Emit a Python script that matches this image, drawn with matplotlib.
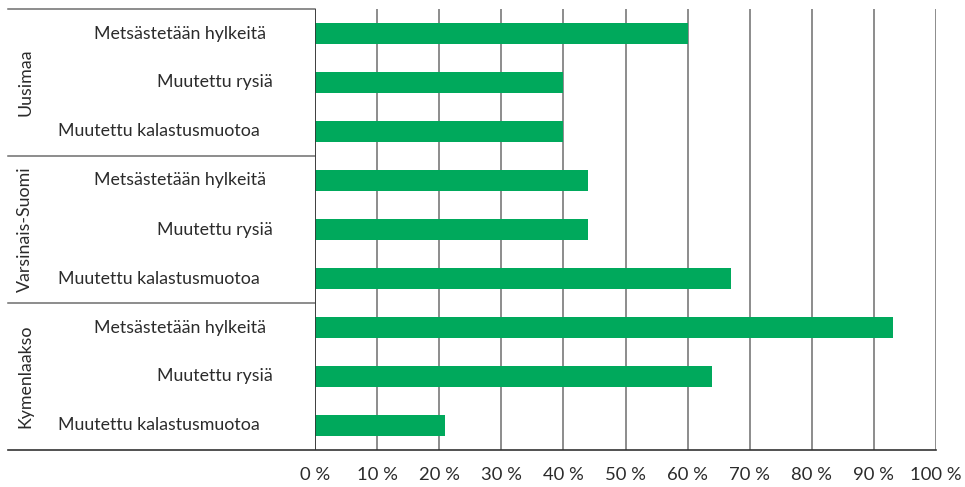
import matplotlib.pyplot as plt
import matplotlib.ticker as ticker

regions = ["Uusimaa", "Varsinais-Suomi", "Kymenlaakso"]
measures = ["Metsästetään hylkeitä", "Muutettu rysiä", "Muutettu kalastusmuotoa"]
uusimaa = [60, 40, 40]
varsinais_suomi = [44, 44, 67]
kymenlaakso = [93, 64, 21]

values = uusimaa + varsinais_suomi + kymenlaakso
labels = measures * len(regions)
rows = list(range(len(values)))

plt.rcParams["font.family"] = ["Lato", "DejaVu Sans"]

fig = plt.figure(figsize=(9.65, 4.87), dpi=100)
ax = fig.add_axes([315 / 965, 37 / 487, 621 / 965, 441 / 487])

GREEN = "#00a95c"
LINE = "#6e6e6e"
TXT = "#2b2b2b"
FS = 12.8

ax.barh(rows, values, height=0.41, color=GREEN, zorder=3)
ax.set_xlim(0, 100)
ax.set_ylim(len(values) - 0.5, -0.5)

ax.xaxis.set_major_locator(ticker.MultipleLocator(10))
ax.xaxis.set_major_formatter(ticker.FuncFormatter(lambda v, p: f"{v:.0f} %"))
ax.tick_params(axis="x", length=0, pad=12, labelsize=13.3, labelcolor=TXT)
ax.tick_params(axis="y", length=0, labelleft=False)
ax.grid(axis="x", color=LINE, linewidth=1.1, zorder=0)
for s in ax.spines.values():
    s.set_visible(False)
ax.axvline(0, color="#333333", linewidth=1.2, zorder=4)

trans = ax.get_yaxis_transform()
left = -(315 - 8) / 621
# label right edges (pixels left of the axis), as in the original layout
gaps = {"Metsästetään hylkeitä": 49, "Muutettu rysiä": 42, "Muutettu kalastusmuotoa": 55}
for r, lab in zip(rows, labels):
    ax.text(-gaps[lab] / 621, r, lab, transform=trans, ha="right", va="center",
            fontsize=FS, color=TXT)

n = len(measures)
for i, reg in enumerate(regions):
    ax.text(left + 17 / 621, i * n + (n - 1) / 2, reg, transform=trans,
            rotation=90, ha="center", va="center", fontsize=FS, color=TXT)

for yb in [-0.5, 2.5, 5.5]:
    ax.plot([left, 0], [yb, yb], transform=trans, color=LINE,
            linewidth=1.1, clip_on=False)
ax.plot([left, 1], [8.5, 8.5], transform=trans, color="#333333",
        linewidth=1.2, clip_on=False)

plt.savefig("out.png", dpi=100, facecolor="white")
